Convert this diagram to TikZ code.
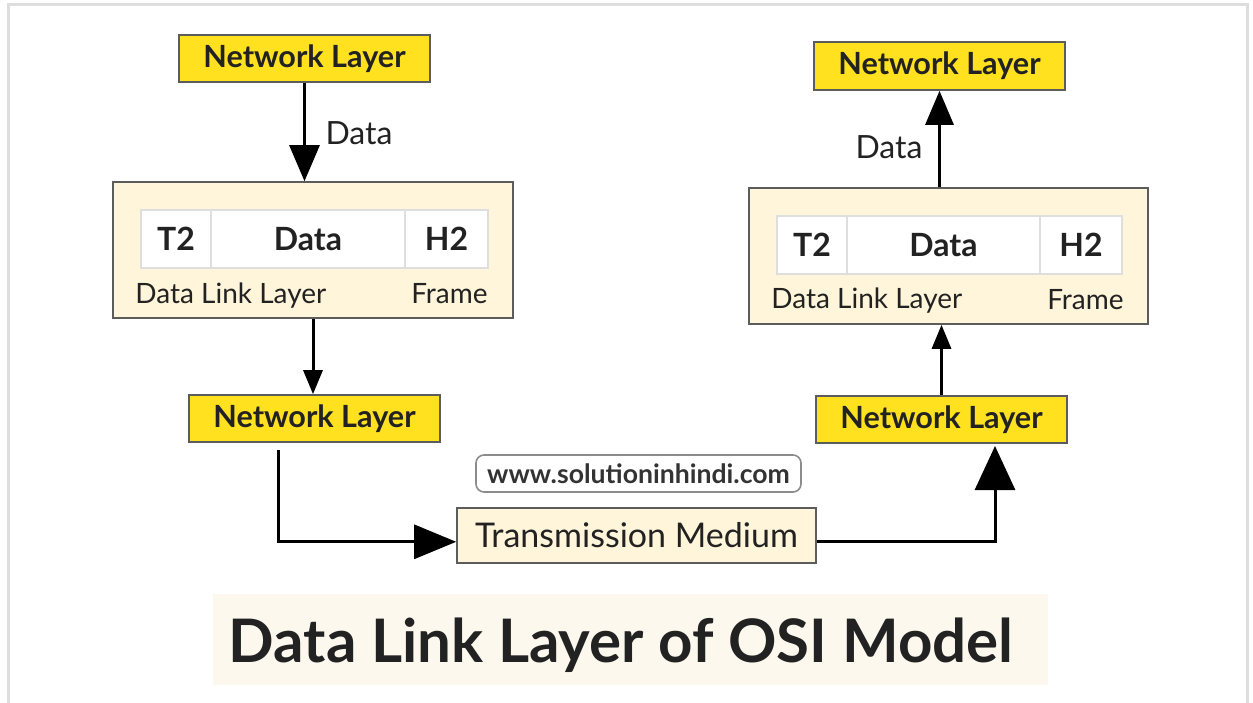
\documentclass[tikz,border=0pt]{standalone}
\usepackage{fontspec}
\setmainfont{Lato}
\usetikzlibrary{arrows.meta}

\newlength{\du}
\setlength{\du}{0.5pt}

\definecolor{netyellow}{rgb}{1.000000, 0.882353, 0.121569}
\definecolor{framecream}{rgb}{1.000000, 0.960784, 0.854902}
\definecolor{titlecream}{rgb}{0.988235, 0.972549, 0.933333}
\definecolor{inkcolor}{rgb}{0.133333, 0.133333, 0.133333}
\definecolor{edgecolor}{rgb}{0.360000, 0.360000, 0.360000}
\definecolor{pagecolor}{rgb}{0.870000, 0.870000, 0.870000}

\tikzset{
  netbox/.style={draw=edgecolor, line width=0.8pt, fill=netyellow, text=inkcolor,
    minimum width=251\du, minimum height=47\du, inner sep=0pt,
    font=\bfseries\fontsize{15.3pt}{17pt}\selectfont},
  dllbox/.style={draw=edgecolor, line width=0.8pt, fill=framecream,
    minimum width=400\du, minimum height=136\du, inner sep=0pt},
  cellbox/.style={draw=black!13, line width=0.8pt, fill=white, text=inkcolor,
    minimum height=58\du, inner sep=0pt,
    font=\bfseries\fontsize{16pt}{18pt}\selectfont},
  plaintext/.style={text=inkcolor, inner sep=0pt, font=\fontsize{14pt}{16pt}\selectfont},
  flow/.style={line width=1.5pt, draw=black},
  bigtip/.style={-{Triangle[length=18pt,width=15pt]}},
  smalltip/.style={-{Triangle[length=12pt,width=9.5pt]}},
}

\begin{document}
\begin{tikzpicture}
\pgftransformxscale{1.000000}
\pgftransformyscale{-1.000000}
\useasboundingbox (0\du,0\du) rectangle (1253\du,702\du);
% page edge
\draw[pagecolor, line width=1.5pt] (8.5\du,720\du) -- (8.5\du,4\du) -- (1247\du,4\du) -- (1247\du,720\du);

% sender side
\node[netbox] (nlTopL) at (304.5\du,58.5\du) {Network Layer};
\node[dllbox] (dllL) at (313\du,250\du) {};
\node[cellbox, minimum width=70\du] (t2L) at (176\du,239\du) {T2};
\node[cellbox, minimum width=194\du] (dataL) at (308\du,239\du) {Data};
\node[cellbox, minimum width=83\du] (h2L) at (446.5\du,239\du) {H2};
\node[plaintext, anchor=west] (dllNameL) at (135\du,296\du) {Data Link Layer};
\node[plaintext, anchor=east] (frameL) at (488\du,294\du) {Frame};
\node[netbox] (nlBotL) at (314.5\du,418.5\du) {Network Layer};
\node[plaintext, font=\fontsize{16pt}{18pt}\selectfont] (lblDataL) at (359\du,133\du) {Data};

% receiver side
\node[netbox, minimum height=48\du] (nlTopR) at (939.5\du,66\du) {Network Layer};
\node[dllbox, minimum width=399\du] (dllR) at (948.5\du,256\du) {};
\node[cellbox, minimum width=70\du] (t2R) at (812\du,245\du) {T2};
\node[cellbox, minimum width=193\du] (dataR) at (943.5\du,245\du) {Data};
\node[cellbox, minimum width=82\du] (h2R) at (1081\du,245\du) {H2};
\node[plaintext, anchor=west] (dllNameR) at (771\du,301\du) {Data Link Layer};
\node[plaintext, anchor=east] (frameR) at (1124\du,300\du) {Frame};
\node[netbox] (nlBotR) at (941.5\du,419.5\du) {Network Layer};
\node[plaintext, font=\fontsize{16pt}{18pt}\selectfont] (lblDataR) at (889\du,147\du) {Data};

% medium
\node[draw=edgecolor, line width=0.8pt, fill=framecream, text=inkcolor, inner sep=0pt,
  minimum width=359\du, minimum height=55\du, font=\fontsize{17pt}{19pt}\selectfont]
  (medium) at (636.5\du,535.5\du) {Transmission Medium};
\node[draw=black!45, line width=0.8pt, rounded corners=8\du, fill=white, text=black!80,
  inner sep=0pt, minimum width=325\du, minimum height=37\du,
  font=\bfseries\fontsize{13.3pt}{15pt}\selectfont]
  (site) at (638.5\du,473.5\du) {www.solutioninhindi.com};
\coordinate (startL) at (278\du,450\du);
\coordinate (endR) at (995\du,446\du);

% connectors
\draw[flow, bigtip] (nlTopL.south) -- (nlTopL.south |- dllL.north);
\draw[flow, smalltip] (dllL.south) -- (dllL.south |- nlBotL.north);
\draw[flow, -{Triangle[length=21pt,width=17pt]}] (startL) |- (medium.182);
\draw[flow, -{Triangle[length=22pt,width=20pt]}] (medium.358) -| (endR);
\draw[flow, smalltip] (nlBotR.north) -- (nlBotR.north |- dllR.south);
\draw[flow, -{Triangle[length=17pt,width=14pt]}] (nlTopR.south |- dllR.north) -- (nlTopR.south);

% title
\fill[titlecream] (213\du,594\du) rectangle (1048\du,685\du);
\node[text=inkcolor, inner sep=0pt, font=\bfseries\fontsize{30pt}{33pt}\selectfont]
  (title) at (621\du,645\du) {Data Link Layer of OSI Model};
\end{tikzpicture}
\end{document}
